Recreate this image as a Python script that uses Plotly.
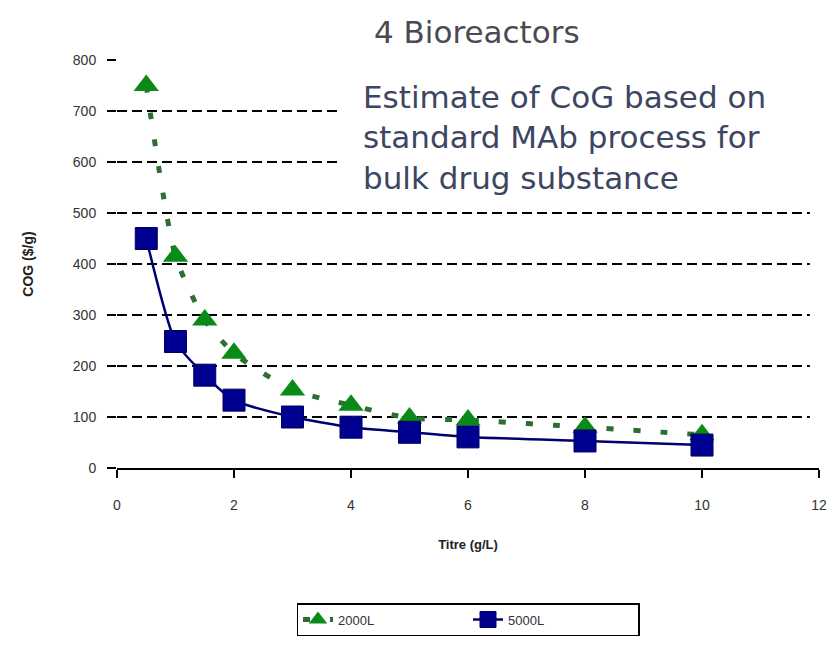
import plotly.graph_objects as go

# Data
titre = [0.5, 1, 1.5, 2, 3, 4, 5, 6, 8, 10]
cog_2000L = [750, 415, 290, 225, 153, 123, 98, 94, 80, 65]
cog_5000L = [450, 248, 182, 133, 100, 80, 70, 61, 53, 45]
series_names = ["2000L", "5000L"]
x_ticks = [0, 2, 4, 6, 8, 10, 12]
y_ticks = [0, 100, 200, 300, 400, 500, 600, 700, 800]
grid_values = [100, 200, 300, 400, 500, 600, 700]

title_text = "4 Bioreactors"
note_text = "Estimate of CoG based on<br>standard MAb process for<br>bulk drug substance"

fig = go.Figure()

fig.add_trace(go.Scatter(
    x=titre, y=cog_2000L, name=series_names[0], mode="lines+markers",
    line=dict(color="#2d6e35", width=5, dash="7px,20px", shape="spline", smoothing=0.6),
    marker=dict(symbol="triangle-up", size=22, color="#0a8a16",
                line=dict(width=0)),
))
fig.add_trace(go.Scatter(
    x=titre, y=cog_5000L, name=series_names[1], mode="lines+markers",
    line=dict(color="#000070", width=2.5, shape="spline", smoothing=0.6),
    marker=dict(symbol="square", size=22, color="#000090",
                line=dict(width=1, color="#000060")),
))

shapes = []
for g in grid_values:
    shapes.append(dict(type="line", xref="paper", yref="y", x0=0, x1=0.987,
                       y0=g, y1=g, layer="below",
                       line=dict(color="black", width=2, dash="10px,5px")))
# white box behind the note text
shapes.append(dict(type="rect", xref="paper", yref="paper", x0=0.316, x1=1.03,
                   y0=0.66, y1=0.956, layer="above",
                   fillcolor="white", line=dict(width=0)))

fig.update_layout(
    width=831, height=645, autosize=False,
    margin=dict(l=109, r=17, t=52, b=185),
    paper_bgcolor="white", plot_bgcolor="white",
    font=dict(family="Liberation Sans", color="#333333", size=13),
    showlegend=True,
    legend=dict(orientation="h", x=0.5, xanchor="center", y=-0.331, yanchor="top",
                bordercolor="black", borderwidth=1.5, bgcolor="white",
                font=dict(size=13, color="#333333"), entrywidth=125),
    shapes=shapes,
    annotations=[
        dict(text=title_text, xref="paper", yref="paper", x=0.513, y=1.069,
             xanchor="center", yanchor="middle", showarrow=False,
             font=dict(family="DejaVu Sans", size=31, color="#4a4a55")),
        dict(text=note_text, xref="paper", yref="paper", x=0.348, y=0.809,
             xanchor="left", yanchor="middle", align="left", showarrow=False,
             font=dict(family="DejaVu Sans", size=31, color="#3c4662")),
    ],
)

fig.update_xaxes(
    range=[0, 12], tickvals=x_ticks, ticktext=[str(v) for v in x_ticks],
    showgrid=False, zeroline=False, showline=True, linecolor="black", linewidth=2,
    ticks="outside", ticklen=8, tickwidth=2, tickcolor="black",
    ticklabelstandoff=15,
    tickfont=dict(size=14, color="#333333"),
    title=dict(text="<b>Titre (g/L)</b>", font=dict(size=13, color="#222222"), standoff=28),
)
fig.update_yaxes(
    range=[0, 800], tickvals=y_ticks, ticktext=[str(v) for v in y_ticks],
    showgrid=False, zeroline=False, showline=False,
    ticks="outside", ticklen=9, tickwidth=2, tickcolor="black",
    ticklabelstandoff=8,
    tickfont=dict(size=14, color="#333333"),
    title=dict(text="<b>COG ($/g)</b>", font=dict(size=14, color="#222222"), standoff=35),
)

fig.write_html("out.html")
